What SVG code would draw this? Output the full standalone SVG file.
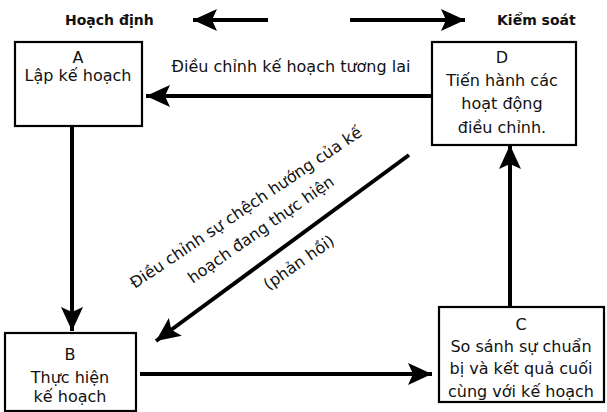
<svg xmlns="http://www.w3.org/2000/svg" width="607" height="412" viewBox="0 0 607 412">
  <style>
    .box { fill: #fff; stroke: #000; stroke-width: 2.2; }
    .t { font-family: "DejaVu Sans", "Liberation Sans", sans-serif; font-size: 16px; fill: #111; text-anchor: middle; }
    .h { font-family: "DejaVu Sans", "Liberation Sans", sans-serif; font-size: 14px; font-weight: bold; fill: #111; }
    .ln { stroke: #000; stroke-width: 4; fill: none; }
  </style>
  <defs>
    <marker id="head" markerUnits="userSpaceOnUse" markerWidth="26" markerHeight="26" viewBox="0 0 26 26" refX="24" refY="13" orient="auto">
      <path d="M0,2 L24,13 L0,24 L5,13 Z" fill="#000"/>
    </marker>
  </defs>
  <rect width="607" height="412" fill="#fff"/>

  <!-- header -->
  <text class="h" x="65" y="25">Hoạch định</text>
  <text class="h" x="497" y="25">Kiểm soát</text>

  <g id="edges">
    <line class="ln" x1="268" y1="20" x2="193" y2="20" marker-end="url(#head)"/>
    <line class="ln" x1="350" y1="20" x2="465" y2="20" marker-end="url(#head)"/>
    <line class="ln" x1="432" y1="96" x2="146" y2="96" marker-end="url(#head)"/>
    <line class="ln" x1="72" y1="126" x2="72" y2="331" marker-end="url(#head)"/>
    <line class="ln" x1="140" y1="374" x2="432" y2="374" marker-end="url(#head)"/>
    <line class="ln" x1="510" y1="306" x2="510" y2="145" marker-end="url(#head)"/>
    <line class="ln" x1="409" y1="155" x2="156" y2="341" marker-end="url(#head)"/>
    <text class="t" x="291" y="72">Điều chỉnh kế hoạch tương lai</text>
    <text class="t" transform="translate(249,212) rotate(-34)">Điều chỉnh sự chệch hướng của kế</text>
    <text class="t" transform="translate(264,234) rotate(-35)">hoạch đang thực hiện</text>
    <text class="t" transform="translate(302,267) rotate(-35)">(phản hồi)</text>
  </g>

  <g id="A">
    <rect class="box" x="15" y="42" width="127" height="84"/>
    <text class="t" x="78" y="63">A</text>
    <text class="t" x="78" y="81">Lập kế hoạch</text>
  </g>
  <g id="D">
    <rect class="box" x="432" y="42" width="144" height="103"/>
    <text class="t" x="502" y="63">D</text>
    <text class="t" x="502" y="86">Tiến hành các</text>
    <text class="t" x="502" y="109">hoạt động</text>
    <text class="t" x="502" y="133">điều chỉnh.</text>
  </g>
  <g id="B">
    <rect class="box" x="5" y="333" width="131" height="78"/>
    <text class="t" x="70" y="360">B</text>
    <text class="t" x="70" y="383">Thực hiện</text>
    <text class="t" x="70" y="402">kế hoạch</text>
  </g>
  <g id="C">
    <rect class="box" x="439" y="307" width="165" height="95"/>
    <text class="t" x="521" y="330">C</text>
    <text class="t" x="521" y="352">So sánh sự chuẩn</text>
    <text class="t" x="521" y="374">bị và kết quả cuối</text>
    <text class="t" x="521" y="397">cùng với kế hoạch</text>
  </g>
</svg>
